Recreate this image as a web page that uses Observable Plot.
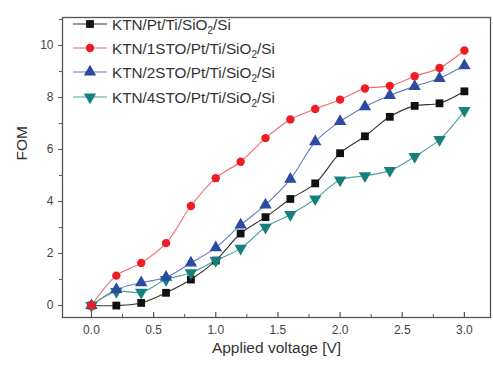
<!DOCTYPE html>
<html>
<head>
<meta charset="utf-8">
<script src="https://cdn.jsdelivr.net/npm/d3@7"></script>
<script src="https://cdn.jsdelivr.net/npm/@observablehq/plot@0.6"></script>
<style>
  html, body { margin: 0; padding: 0; background: #fff; }
  svg { font-family: "Liberation Sans", Arial, sans-serif; }
</style>
</head>
<body>
<div id="chart"></div>
<script>
// ---- data ----
const voltage = [0, 0.2, 0.4, 0.6, 0.8, 1.0, 1.2, 1.4, 1.6, 1.8, 2.0, 2.2, 2.4, 2.6, 2.8, 3.0];
const fomKTN  = [0, 0, 0.1, 0.49, 1.0, 1.73, 2.77, 3.4, 4.1, 4.7, 5.86, 6.51, 7.26, 7.68, 7.78, 8.24];
const fom1STO = [0, 1.15, 1.64, 2.4, 3.83, 4.9, 5.53, 6.44, 7.16, 7.56, 7.92, 8.35, 8.45, 8.82, 9.14, 9.81];
const fom2STO = [0, 0.62, 0.88, 1.09, 1.64, 2.23, 3.1, 3.87, 4.86, 6.3, 7.08, 7.65, 8.08, 8.43, 8.74, 9.23];
const fom4STO = [0, 0.54, 0.51, 1.0, 1.26, 1.73, 2.2, 3.01, 3.5, 4.1, 4.83, 4.99, 5.19, 5.73, 6.38, 7.5];
const seriesNames = ["KTN/Pt/Ti/SiO", "KTN/1STO/Pt/Ti/SiO", "KTN/2STO/Pt/Ti/SiO", "KTN/4STO/Pt/Ti/SiO"];
const xTicks = [0, 0.5, 1.0, 1.5, 2.0, 2.5, 3.0];
const xMinorTicks = [0.25, 0.75, 1.25, 1.75, 2.25, 2.75];
const yTicks = [0, 2, 4, 6, 8, 10];
const yMinorTicks = [1, 3, 5, 7, 9, 11];

// ---- styles ----
const markerColors = ["#111111", "#ee1c25", "#2b4ba3", "#17807e"];
const lineColors   = ["#333333", "#f26b6b", "#5f7cc4", "#4aa3a1"];
const triangleDown = {
  draw(context, size) {
    const y = -Math.sqrt(size / (Math.sqrt(3) * 3));
    context.moveTo(0, -y * 2);
    context.lineTo(Math.sqrt(3) * y, y);
    context.lineTo(-Math.sqrt(3) * y, y);
    context.closePath();
  }
};
const symbols = ["square", "circle", "triangle", triangleDown];
const d3Symbols = [d3.symbolSquare, d3.symbolCircle, d3.symbolTriangle, triangleDown];
const radii = [4.4, 4.2, 4.6, 4.6];

const allSeries = [fomKTN, fom1STO, fom2STO, fom4STO];
const rows = [];
allSeries.forEach((vals, s) => vals.forEach((v, i) => rows.push({s, x: voltage[i], y: v})));

const marks = [];
allSeries.forEach((vals, s) => {
  const d = rows.filter(r => r.s === s);
  marks.push(Plot.line(d, {x: "x", y: "y", stroke: lineColors[s], strokeWidth: 1.1, curve: "catmull-rom"}));
});
[0, 3, 2, 1].forEach(s => {
  const d = rows.filter(r => r.s === s);
  marks.push(Plot.dot(d, {x: "x", y: "y", symbol: () => symbols[s], fill: markerColors[s], stroke: "none", r: radii[s]}));
});

const axisColor = "#555";
const chart = Plot.plot({
  width: 493,
  height: 366,
  marginLeft: 62,
  marginRight: 3,
  marginTop: 17,
  marginBottom: 49,
  style: {fontFamily: "Liberation Sans, Arial, sans-serif", background: "#fff"},
  x: {domain: [-0.233, 3.21], label: null},
  y: {domain: [-0.46, 11.08], label: null},
  symbol: {type: "identity"},
  marks: [
    ...marks,
    Plot.frame({stroke: axisColor, strokeWidth: 1.3}),
    Plot.axisX({ticks: xTicks, tickSize: 5, dy: -5, text: null, stroke: axisColor, strokeWidth: 1.2}),
    Plot.axisX({ticks: xMinorTicks, tickSize: 3, dy: -3, text: null, stroke: axisColor, strokeWidth: 1}),
    Plot.axisX({ticks: xTicks, tickSize: 0, tickPadding: 8, tickFormat: d3.format(".1f"), fontSize: 12, fill: "#444", label: null}),
    Plot.axisY({ticks: yTicks, tickSize: 4, tickPadding: 5, fontSize: 12, fill: "#444", stroke: axisColor, label: null}),
    Plot.axisY({ticks: yMinorTicks, tickSize: 3, text: null, stroke: axisColor, label: null}),
    Plot.text(["FOM"], {text: d => d, frameAnchor: "left", dx: -40, dy: -7, rotate: -90, fontSize: 15.5, fill: "#333"}),
    Plot.text(["Applied voltage [V]"], {text: d => d, frameAnchor: "bottom", dy: 35, fontSize: 15.5, fill: "#333"})
  ]
});
document.getElementById("chart").appendChild(chart);

// ---- legend (inside plot, top-left) ----
const svg = d3.select(chart);
const lg = svg.append("g").attr("class", "legend").attr("text-anchor", "start");
const rowY = [24, 48, 72, 97];
seriesNames.forEach((name, s) => {
  const g = lg.append("g").attr("transform", `translate(0,${rowY[s]})`);
  g.append("line").attr("x1", 73).attr("x2", 107).attr("y1", 0).attr("y2", 0)
    .attr("stroke", lineColors[s]).attr("stroke-width", 1.1);
  const sym = d3.symbol().type(d3Symbols[s]).size(Math.PI * radii[s] * radii[s]);
  g.append("path").attr("d", sym()).attr("transform", "translate(90,0)").attr("fill", markerColors[s]);
  const t = g.append("text").attr("x", 112).attr("y", 5.5)
    .attr("text-anchor", "start")
    .attr("font-size", 15.3).attr("fill", "#333")
    .style("font-family", "Liberation Sans, Arial, sans-serif");
  t.append("tspan").text(name);
  t.append("tspan").text("2").attr("font-size", 10).attr("dy", 4);
  t.append("tspan").text("/Si").attr("dy", -4);
});
</script>
</body>
</html>
